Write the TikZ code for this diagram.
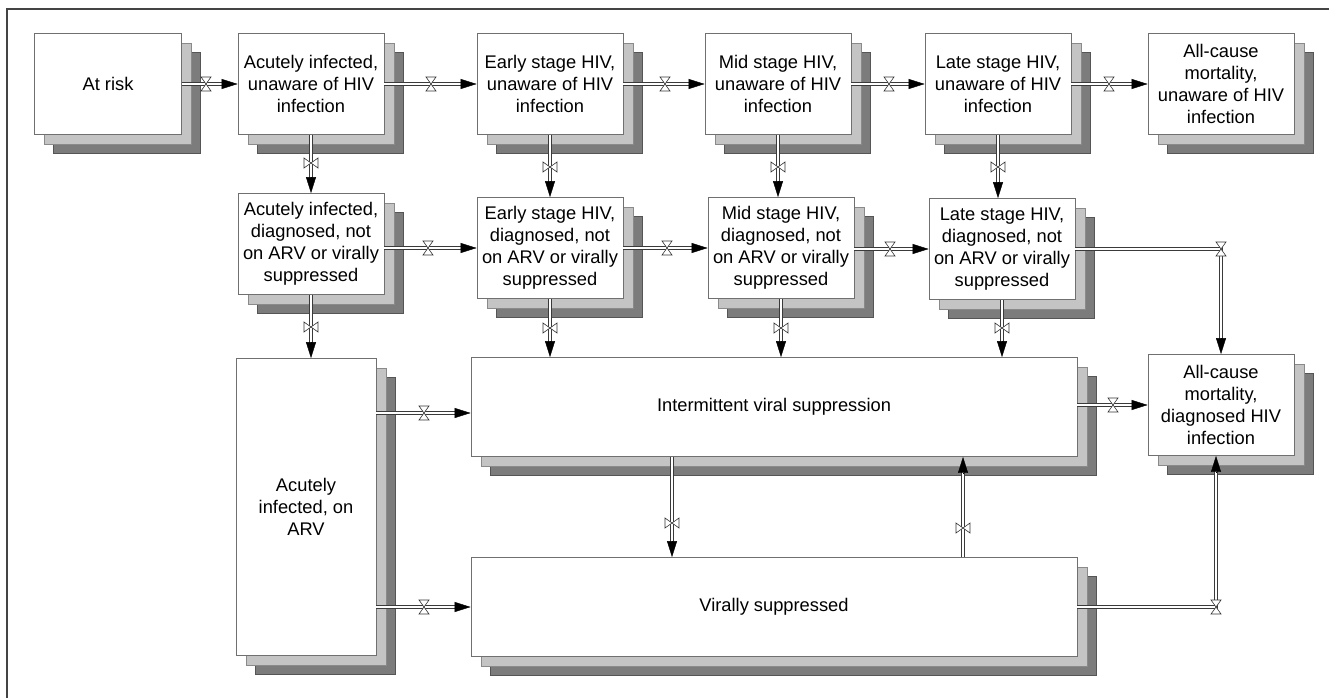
\documentclass[tikz,border=0pt]{standalone}
\usepackage{fontspec}
\setmainfont{Liberation Sans}
\usetikzlibrary{arrows.meta,calc,shadows}
\definecolor{boxline}{HTML}{707070}
\definecolor{shadowA}{HTML}{C4C4C4}
\definecolor{shadowAline}{HTML}{8A8A8A}
\definecolor{shadowB}{HTML}{7C7C7C}
\definecolor{shadowBline}{HTML}{555555}
\definecolor{pipeline}{HTML}{3A3A3A}
\definecolor{valveline}{HTML}{333333}
\definecolor{framecol}{HTML}{444444}
\newcommand\flowR[2]{\draw[pipe] #1 -- ($#2+(-12,0)$); \draw[tip] ($#2+(-16,0)$) -- #2;}
\newcommand\flowD[2]{\draw[pipe] #1 -- ($#2+(0,-12)$); \draw[tip] ($#2+(0,-16)$) -- #2;}
\newcommand\flowU[2]{\draw[pipe] #1 -- ($#2+(0,12)$); \draw[tip] ($#2+(0,16)$) -- #2;}
\begin{document}
\begin{tikzpicture}[x=1pt,y=-1pt,
  box/.style={draw=boxline, line width=0.8pt, fill=white, align=center, inner sep=0pt,
    minimum width=146pt, minimum height=101pt, font=\fontsize{18.3}{22}\selectfont,
    general shadow={shadow xshift=19pt, shadow yshift=-19pt, fill=shadowB, draw=shadowBline, line width=0.8pt},
    general shadow={shadow xshift=10pt, shadow yshift=-10pt, fill=shadowA, draw=shadowAline, line width=0.8pt}},
  pipe/.style={draw=pipeline, line width=0.9pt, double=white, double distance=2pt},
  tip/.style={-{Triangle[length=16pt,width=10pt]}, line width=0.4pt, black},
  valve/.style={draw=valveline, line width=0.6pt, fill=white},
  valveh/.pic={\path[valve] (-5,-7) -- (5,-7) -- (-5,7) -- (5,7) -- cycle;},
  valvev/.pic={\path[valve] (-7,-5) -- (-7,5) -- (7,-5) -- (7,5) -- cycle;},
]
\useasboundingbox (0,0) rectangle (1329,698);
\draw[framecol, line width=1.3pt] (7,698) -- (7,9) -- (1329,9);

% row 1
\node[box, minimum width=147pt] (risk) at (108,84) {At risk};
\node[box] (acu) at (311,84) {Acutely infected,\\unaware of HIV\\infection};
\node[box] (early) at (550,84) {Early stage HIV,\\unaware of HIV\\infection};
\node[box] (mid) at (778,84) {Mid stage HIV,\\unaware of HIV\\infection};
\node[box] (late) at (998,84) {Late stage HIV,\\unaware of HIV\\infection};
\node[box] (mortU) at (1221,84) {All-cause\\mortality,\\unaware of HIV\\infection};
% row 2
\node[box] (acuD) at (311,244) {Acutely infected,\\diagnosed, not\\on ARV or virally\\suppressed};
\node[box] (earD) at (550,248) {Early stage HIV,\\diagnosed, not\\on ARV or virally\\suppressed};
\node[box] (midD) at (781,248) {Mid stage HIV,\\diagnosed, not\\on ARV or virally\\suppressed};
\node[box] (latD) at (1002,249) {Late stage HIV,\\diagnosed, not\\on ARV or virally\\suppressed};
% row 3
\node[box, minimum width=140pt, minimum height=297pt] (arv) at (306,507) {Acutely\\infected, on\\ARV};
\node[box, minimum width=606pt, minimum height=99pt] (inter) at (774,407) {Intermittent viral suppression};
\node[box, minimum width=606pt, minimum height=99pt] (vir) at (774,607) {Virally suppressed};
\node[box] (mortD) at (1221,405) {All-cause\\mortality,\\diagnosed HIV\\infection};

% row 1 flows
\flowR{(risk.east)}{(acu.west)}
\flowR{(acu.east)}{(early.west)}
\flowR{(early.east)}{(mid.west)}
\flowR{(mid.east)}{(late.west)}
\flowR{(late.east)}{(mortU.west)}
\pic at (206,84) {valveh};
\pic at (431,84) {valveh};
\pic at (665,84) {valveh};
\pic at (889,84) {valveh};
\pic at (1109,84) {valveh};

% row 1 -> row 2
\flowD{(acu.south)}{(acu.south |- acuD.north)}
\flowD{(early.south)}{(early.south |- earD.north)}
\flowD{(mid.south)}{(mid.south |- midD.north)}
\flowD{(late.south)}{(late.south |- latD.north)}
\pic at (311,163) {valvev};
\pic at (550,167) {valvev};
\pic at (778,167) {valvev};
\pic at (998,167) {valvev};

% row 2 flows
\flowR{(acuD.east |- earD.west)}{(earD.west)}
\flowR{(earD.east |- midD.west)}{(midD.west)}
\flowR{(midD.east |- latD.west)}{(latD.west)}
\draw[pipe] (latD.east) -| ($(mortD.north)+(0,-12)$);
\draw[tip] ($(mortD.north)+(0,-16)$) -- (mortD.north);
\pic at (428,248) {valveh};
\pic at (667,248) {valveh};
\pic at (890,249) {valveh};
\pic at (1221,249) {valveh};

% row 2 -> row 3
\flowD{(acuD.south)}{(acuD.south |- arv.north)}
\flowD{(earD.south)}{(earD.south |- inter.north)}
\flowD{(midD.south)}{(midD.south |- inter.north)}
\flowD{(latD.south)}{(latD.south |- inter.north)}
\pic at (311,327) {valvev};
\pic at (550,328) {valvev};
\pic at (781,328) {valvev};
\pic at (1002,328) {valvev};

% row 3 flows
\coordinate (interIn) at ($(inter.west)+(0,6)$);
\flowR{(arv.east |- interIn)}{(interIn)}
\flowR{(arv.east |- vir.west)}{(vir.west)}
\flowR{(inter.east |- mortD.west)}{(mortD.west)}
\pic at (424,413) {valveh};
\pic at (424,607) {valveh};
\pic at (1113,405) {valveh};

\coordinate (ivOut) at ($(inter.south)+(-102,0)$);
\flowD{(ivOut)}{(ivOut |- vir.north)}
\pic at (672,523) {valvev};
\coordinate (viOut) at ($(vir.north)+(189,0)$);
\flowU{(viOut)}{(viOut |- inter.south)}
\pic at (963,528) {valvev};

\coordinate (mdIn) at ($(mortD.south)+(-5,0)$);
\draw[pipe] (vir.east) -| ($(mdIn)+(0,12)$);
\draw[tip] ($(mdIn)+(0,16)$) -- (mdIn);
\pic at (1216,607) {valveh};
\end{tikzpicture}
\end{document}
